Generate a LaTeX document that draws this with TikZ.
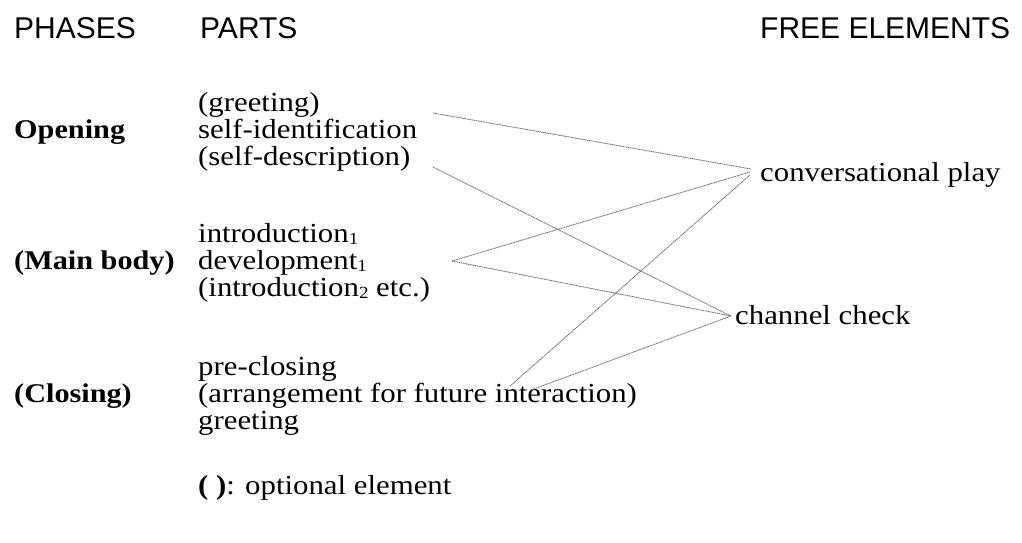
\documentclass[tikz,border=0pt]{standalone}
\usepackage{fontspec}
\setmainfont{Liberation Serif}[FakeStretch=1.12]
\setsansfont{Liberation Sans}
\newcommand{\lowsub}[1]{\raisebox{-0.1em}{\fontsize{17}{17}\selectfont #1}}
\begin{document}
\begin{tikzpicture}[x=1pt,y=-1pt,
  hdr/.style={anchor=base west,inner sep=0pt,font=\sffamily\fontsize{30}{30}\selectfont},
  phase/.style={anchor=base west,inner sep=0pt,font=\bfseries\fontsize{27}{27}\selectfont},
  part/.style={anchor=base west,inner sep=0pt,font=\fontsize{27.5}{27.5}\selectfont},
  link/.style={draw=black!55,line width=0.9pt,dash pattern=on 1.2pt off 0.6pt}]
\useasboundingbox (0,0) rectangle (1022,542);
% headers
\node[hdr] (hph) at (14,38) {PHASES};
\node[hdr] (hpa) at (200,38) {PARTS};
\node[hdr] (hfe) at (760,38) {FREE ELEMENTS};
% phases
\node[phase] (open) at (14,138) {Opening};
\node[phase] (main) at (14,269) {(Main body)};
\node[phase] (clos) at (14,402) {(Closing)};
% parts
\node[part] (p1) at (198,111) {(greeting)};
\node[part] (p2) at (198,138) {self-identification};
\node[part] (p3) at (198,165) {(self-description)};
\node[part] (p4) at (198,242) {introduction\lowsub{1}};
\node[part] (p5) at (198,269) {development\lowsub{1}};
\node[part] (p6) at (198,296) {(introduction\lowsub{2} etc.)};
\node[part] (p7) at (198,375) {pre-closing};
\node[part] (p8) at (198,402) {(arrangement for future interaction)};
\node[part] (p9) at (198,429) {greeting};
\node[part] (opt) at (198,494) {\textbf{( )}: optional element};
% free elements
\node[part] (cp) at (760,181) {conversational play};
\node[part] (cc) at (735,324) {channel check};
% connector end points
\coordinate (g1) at (433,113);
\coordinate (sd) at (433,167);
\coordinate (jn) at (452,261);
\coordinate (a1) at (510,386);
\coordinate (a2) at (531,390);
\coordinate (cpa) at (751,169);
\coordinate (cpb) at (750,172);
\coordinate (cpc) at (750,175);
\coordinate (cca) at (731,316);
% connectors
\draw[link] (g1) -- (cpa);
\draw[link] (sd) -- (cca);
\draw[link] (jn) -- (cpb);
\draw[link] (jn) -- (cca);
\draw[link] (a1) -- (cpc);
\draw[link] (a2) -- (cca);
\end{tikzpicture}
\end{document}
